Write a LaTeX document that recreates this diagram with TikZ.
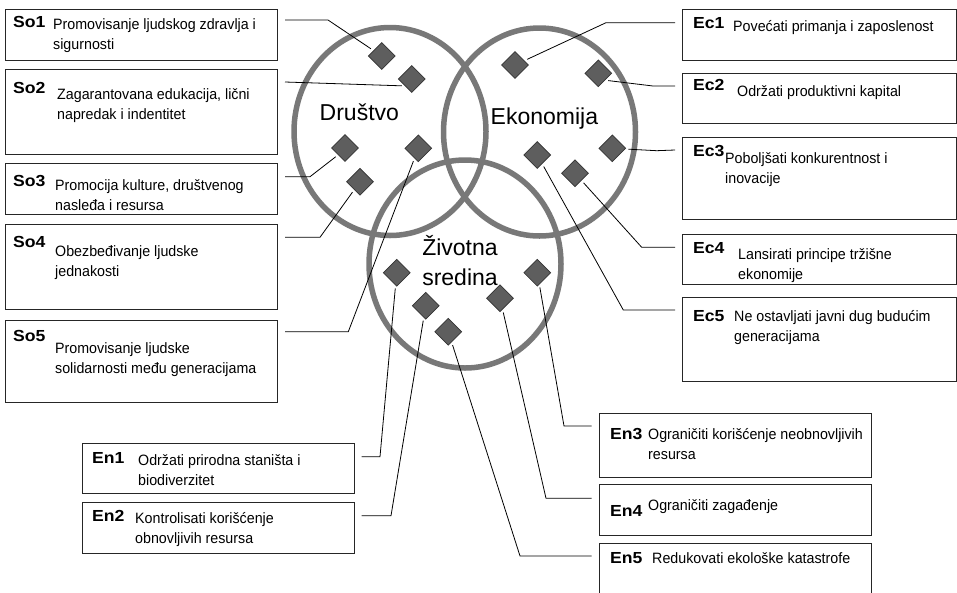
\documentclass[tikz,border=0pt]{standalone}
\usepackage{fontspec}
\setmainfont{Liberation Sans}
\newfontfamily\descfont[FakeStretch=0.95]{Liberation Sans}
\newfontfamily\labfont[FakeStretch=1.1]{Liberation Sans}
\usetikzlibrary{shapes.geometric}
\definecolor{ringgray}{HTML}{787878}
\definecolor{dmdfill}{HTML}{5E5E5E}
\newcommand{\lab}[1]{{\labfont\bfseries\fontsize{16}{19}\selectfont #1}}
\newcommand{\dtwo}[2]{\vtop{\descfont\fontsize{15}{20}\selectfont\hbox{#1}\hbox{#2}}}
\newcommand{\done}[1]{{\descfont\fontsize{15}{20}\selectfont #1}}
\begin{document}
\begin{tikzpicture}[x=1pt,y=-1pt,
  box/.style={draw=black!85, line width=1.1pt, fill=white, rectangle, inner sep=0pt, anchor=north west},
  ring/.style={draw=ringgray, line width=5.5pt, ellipse, inner sep=0pt, minimum width=192pt, minimum height=208pt},
  dmd/.style={diamond, draw=black!80, line width=0.7pt, fill=dmdfill, inner sep=0pt, minimum width=27pt, minimum height=27pt},
  conn/.style={draw=black, line width=0.8pt, shorten >=3pt},
  txt/.style={inner sep=0pt, anchor=base west},
  big/.style={inner sep=0pt, font=\fontsize{23}{30}\selectfont}]
\useasboundingbox (0,0) rectangle (957,592);
\clip (0,0) rectangle (957,592);
\fill[white] (0,0) rectangle (957,592);

% boxes
\node[box, minimum width=272pt, minimum height=51pt] (so1) at (5,9) {};
\node[box, minimum width=272pt, minimum height=85pt] (so2) at (5,69) {};
\node[box, minimum width=272pt, minimum height=51pt] (so3) at (5,163) {};
\node[box, minimum width=272pt, minimum height=85pt] (so4) at (5,224) {};
\node[box, minimum width=272pt, minimum height=82pt] (so5) at (5,320) {};
\node[box, minimum width=274pt, minimum height=51pt] (ec1) at (682,9) {};
\node[box, minimum width=274pt, minimum height=50pt] (ec2) at (682,73) {};
\node[box, minimum width=274pt, minimum height=82pt] (ec3) at (682,137) {};
\node[box, minimum width=274pt, minimum height=50pt] (ec4) at (682,234) {};
\node[box, minimum width=274pt, minimum height=84pt] (ec5) at (682,297) {};
\node[box, minimum width=272pt, minimum height=50pt] (en1) at (82,443) {};
\node[box, minimum width=272pt, minimum height=51pt] (en2) at (82,502) {};
\node[box, minimum width=272pt, minimum height=64pt] (en3) at (599,413) {};
\node[box, minimum width=272pt, minimum height=51pt] (en4) at (599,484) {};
\node[box, minimum width=272pt, minimum height=60pt] (en5) at (599,543) {};

% box texts
\node[txt] (so1l) at (13,27.5) {\lab{So1}};
\node[txt] (so1d) at (53,29.5) {\dtwo{Promovisanje ljudskog zdravlja i}{sigurnosti}};
\node[txt] (so2l) at (13,93) {\lab{So2}};
\node[txt] (so2d) at (57,99.5) {\dtwo{Zagarantovana edukacija, lični}{napredak i indentitet}};
\node[txt] (so3l) at (13,186.5) {\lab{So3}};
\node[txt] (so3d) at (55,190) {\dtwo{Promocija kulture, društvenog}{nasleđa i resursa}};
\node[txt] (so4l) at (13,247) {\lab{So4}};
\node[txt] (so4d) at (55,256.5) {\dtwo{Obezbeđivanje ljudske}{jednakosti}};
\node[txt] (so5l) at (13,341.5) {\lab{So5}};
\node[txt] (so5d) at (55,353.5) {\dtwo{Promovisanje ljudske}{solidarnosti među generacijama}};

\node[txt] (ec1l) at (693,28.5) {\lab{Ec1}};
\node[txt] (ec1d) at (733,31.5) {\done{Povećati primanja i zaposlenost}};
\node[txt] (ec2l) at (693,90.5) {\lab{Ec2}};
\node[txt] (ec2d) at (737,96.5) {\done{Održati produktivni kapital}};
\node[txt] (ec3l) at (693,156.5) {\lab{Ec3}};
\node[txt] (ec3d) at (725,163.5) {\dtwo{Poboljšati konkurentnost i}{inovacije}};
\node[txt] (ec4l) at (693,253) {\lab{Ec4}};
\node[txt] (ec4d) at (738,259) {\dtwo{Lansirati principe tržišne}{ekonomije}};
\node[txt] (ec5l) at (693,321.5) {\lab{Ec5}};
\node[txt] (ec5d) at (734,321.5) {\dtwo{Ne ostavljati javni dug budućim}{generacijama}};

\node[txt] (en1l) at (92,463.5) {\lab{En1}};
\node[txt] (en1d) at (138,465) {\dtwo{Održati prirodna staništa i}{biodiverzitet}};
\node[txt] (en2l) at (92,521.5) {\lab{En2}};
\node[txt] (en2d) at (135,523) {\dtwo{Kontrolisati korišćenje}{obnovljivih resursa}};
\node[txt] (en3l) at (610,439.5) {\lab{En3}};
\node[txt] (en3d) at (648,439.5) {\dtwo{Ograničiti korišćenje neobnovljivih}{resursa}};
\node[txt] (en4l) at (610,516.5) {\lab{En4}};
\node[txt] (en4d) at (648,510) {\done{Ograničiti zagađenje}};
\node[txt] (en5l) at (610,563.5) {\lab{En5}};
\node[txt] (en5d) at (652,563.5) {\done{Redukovati ekološke katastrofe}};

% rings
\node[ring] (soc) at (390,131.5) {};
\node[ring] (eco) at (539.5,132) {};
\node[ring] (env) at (465,264) {};
\node[big, anchor=base west] (socl) at (319.5,120.5) {Društvo};
\node[big, anchor=base west] (ecol) at (490.5,124) {Ekonomija};
\node[big, anchor=base] (envl) at (460,255) {\vtop{\baselineskip=30pt\halign{\hfil#\hfil\cr Životna\cr sredina\cr}}};

% diamonds
\node[dmd] (dso1) at (381.7,56) {};
\node[dmd] (dso2) at (411.7,79) {};
\node[dmd] (dso3) at (345,148) {};
\node[dmd] (dso4) at (360,181.7) {};
\node[dmd] (dso5) at (418.3,148.3) {};
\node[dmd] (dec1) at (515,65) {};
\node[dmd] (dec2) at (598.3,73.3) {};
\node[dmd] (dec3) at (612.3,148.3) {};
\node[dmd] (dec4) at (575,173.3) {};
\node[dmd] (dec5) at (537.3,155) {};
\node[dmd] (den1) at (396.7,272.7) {};
\node[dmd] (den2) at (425.7,305.7) {};
\node[dmd] (den3) at (537.3,272.7) {};
\node[dmd] (den4) at (500,298.3) {};
\node[dmd] (den5) at (448.3,331.7) {};

% connector free ends
\coordinate (cso1) at (285,20);
\coordinate (cso2) at (285,82);
\coordinate (cso3) at (285,176.7);
\coordinate (cso4) at (285,237.3);
\coordinate (cso5) at (285,331.7);
\coordinate (cec1) at (675,22.7);
\coordinate (cec2) at (675,86);
\coordinate (cec3) at (675,150);
\coordinate (cec4) at (675,247.3);
\coordinate (cec5) at (675,310);
\coordinate (cen1) at (361.7,456.7);
\coordinate (cen2) at (361.7,515.7);
\coordinate (cen3) at (591.7,426);
\coordinate (cen4) at (591.7,498.3);
\coordinate (cen5) at (591.7,556);

% connectors
\draw[conn] (cso1) -- (328,20) -- (dso1);
\draw[conn] (cso2) -- (dso2.south west);
\draw[conn] (cso3) -- (310,176.7) -- (dso3.south west);
\draw[conn] (cso4) -- (320,237.3) -- (dso4);
\draw[conn] (cso5) -- (348.3,331.7) -- (dso5);
\draw[conn] (cec1) -- (606,22.7) -- (dec1);
\draw[conn] (cec2) -- (653,86) -- (dec2.south east);
\draw[conn] (cec3) -- (656.7,150.7) -- (dec3);
\draw[conn] (cec4) -- (641.7,247.3) -- (dec4);
\draw[conn] (cec5) -- (623.3,310) -- (dec5);
\draw[conn] (cen1) -- (380,456.7) -- (den1);
\draw[conn] (cen2) -- (391,515.7) -- (den2);
\draw[conn] (cen3) -- (564,426) -- (den3);
\draw[conn] (cen4) -- (546,498.3) -- (den4);
\draw[conn] (cen5) -- (520,556) -- (den5);
\end{tikzpicture}
\end{document}
